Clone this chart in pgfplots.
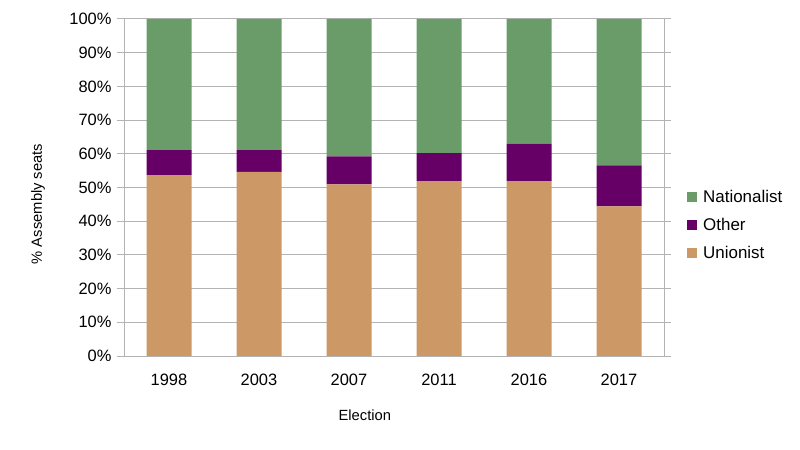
\documentclass[border=0pt]{standalone}
\usepackage{pgfplots}
\pgfplotsset{compat=1.18}
\usepackage{fontspec}
\setmainfont{Liberation Sans}
\definecolor{natc}{HTML}{6A9C6A}
\definecolor{othc}{HTML}{660066}
\definecolor{unic}{HTML}{CC9966}
\definecolor{gridc}{HTML}{B3B3B3}
\begin{document}
\begin{tikzpicture}
\useasboundingbox (0,0) rectangle (800bp,450bp);
\begin{axis}[
  at={(124bp,94bp)}, anchor=south west,
  scale only axis, width=540bp, height=337bp,
  ybar stacked, bar width=45bp,
  xmin=-0.5, xmax=5.5, ymin=0, ymax=100,
  xtick={0,1,2,3,4,5},
  xticklabels={1998,2003,2007,2011,2016,2017},
  major x tick style={draw=none},
  extra x ticks={-0.5,0.5,1.5,2.5,3.5,4.5,5.5},
  extra x tick labels={},
  extra x tick style={grid=none, tick align=outside, major tick length=7bp, tick style={draw=gridc, line width=1pt}},
  ytick={0,10,...,100},
  yticklabel={\pgfmathprintnumber{\tick}\%},
  ymajorgrids, grid style={gridc, line width=1pt},
  y tick style={draw=gridc, line width=1pt},
  tick align=outside, major tick length=7bp,
  axis line style={gridc, line width=1pt},
  /pgf/number format/assume math mode=true,
  ticklabel style={font=\fontsize{16.5}{19}\selectfont, text=black},
  xticklabel style={yshift=-8bp},
  yticklabel style={xshift=-2bp},
  xlabel={Election}, ylabel={\% Assembly seats},
  label style={font=\fontsize{14.8}{17}\selectfont},
  xlabel style={at={(axis description cs:0.446,-0.175)}, anchor=center},
  ylabel style={at={(axis description cs:-0.159,0.451)}, anchor=center, rotate=0},
  legend style={at={(axis description cs:1.0426,0.389)}, anchor=west, draw=none, fill=none,
    inner sep=0pt, font=\fontsize{17}{20}\selectfont, row sep=14bp,
    nodes={inner sep=0pt, anchor=west}, column sep=6bp},
  legend image code/.code={\fill[#1] (0bp,-5bp) rectangle (10bp,5bp);},
  reverse legend,
]
\addplot[fill=unic, draw=none] coordinates {(0,53.7) (1,54.6) (2,50.9) (3,51.9) (4,51.9) (5,44.4)};
\addplot[fill=othc, draw=none] coordinates {(0,7.4) (1,6.5) (2,8.3) (3,8.3) (4,11.1) (5,12.2)};
\addplot[fill=natc, draw=none] coordinates {(0,38.9) (1,38.9) (2,40.8) (3,39.8) (4,37.0) (5,43.4)};
\legend{Unionist,Other,Nationalist}
\end{axis}
\end{tikzpicture}
\end{document}
